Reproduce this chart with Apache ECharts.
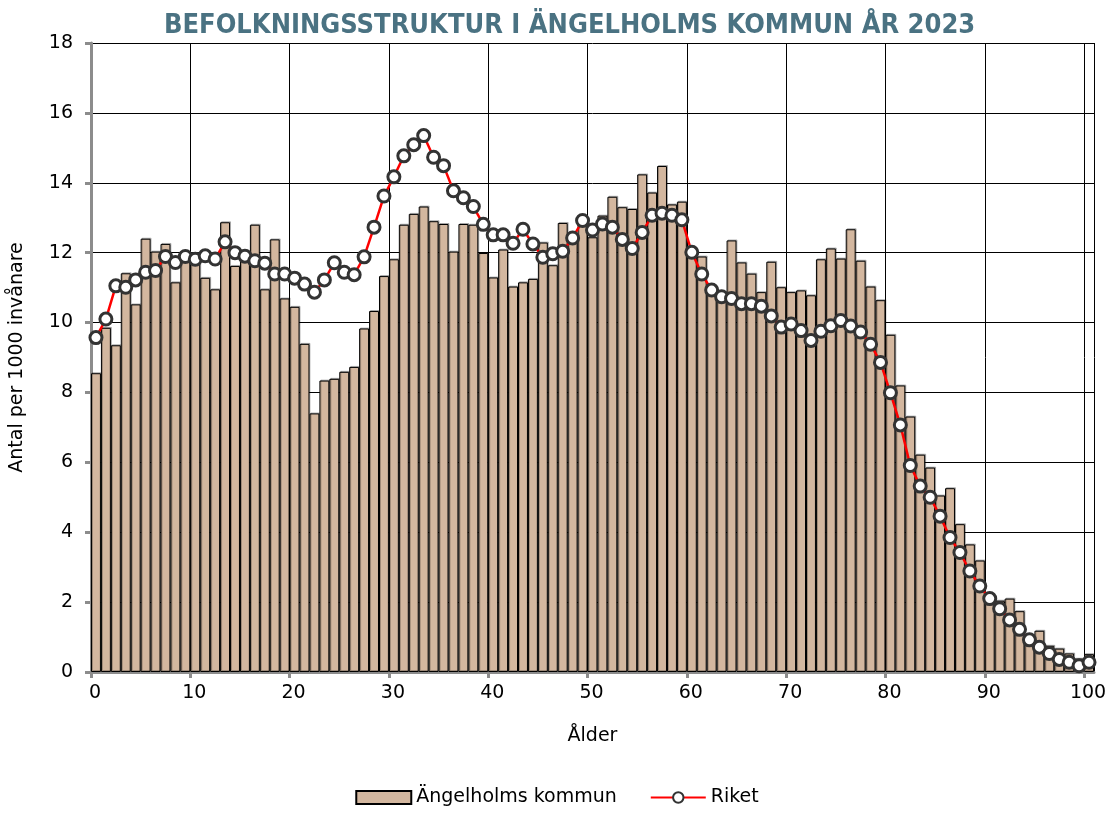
<!DOCTYPE html>
<html>
<head>
<meta charset="utf-8">
<script src="https://cdn.jsdelivr.net/npm/echarts@6/dist/echarts.min.js"></script>
<style>
  html, body { margin: 0; padding: 0; background: #fff; }
  #chart { width: 1114px; height: 816px; }
</style>
</head>
<body>
<div id="chart"></div>
<script>
// ålder 0..100
const ages = [];
for (let i = 0; i <= 100; i++) ages.push(String(i));

// Ängelholms kommun, antal per 1000 invånare
const kommunValues = [
  8.55, 9.85, 9.35, 11.41, 10.52, 12.40, 12.03, 12.25, 11.15, 11.90,
  11.75, 11.28, 10.95, 12.87, 11.62, 11.85, 12.80, 10.95, 12.38, 10.69,
  10.45, 9.39, 7.40, 8.34, 8.39, 8.59, 8.73, 9.83, 10.33, 11.33,
  11.81, 12.80, 13.11, 13.32, 12.90, 12.82, 12.03, 12.82, 12.80, 11.99,
  11.29, 12.09, 11.03, 11.15, 11.25, 12.29, 11.64, 12.85, 12.50, 12.85,
  12.44, 13.06, 13.60, 13.30, 13.25, 14.24, 13.72, 14.48, 13.38, 13.46,
  12.00, 11.89, 10.95, 10.80, 12.35, 11.72, 11.40, 10.87, 11.74, 11.01,
  10.87, 10.92, 10.78, 11.81, 12.12, 11.83, 12.67, 11.77, 11.03, 10.64,
  9.65, 8.20, 7.31, 6.22, 5.85, 5.05, 5.26, 4.23, 3.65, 3.19,
  2.05, 2.04, 2.10, 1.74, 1.05, 1.18, 0.75, 0.67, 0.53, 0.38,
  0.51
];

// Riket
const riketValues = [
  9.57, 10.10, 11.05, 11.01, 11.22, 11.44, 11.49, 11.89, 11.72, 11.89,
  11.81, 11.91, 11.82, 12.31, 12.00, 11.90, 11.77, 11.70, 11.39, 11.39,
  11.27, 11.10, 10.87, 11.22, 11.71, 11.44, 11.37, 11.88, 12.73, 13.62,
  14.17, 14.77, 15.09, 15.35, 14.73, 14.49, 13.77, 13.57, 13.32, 12.81,
  12.51, 12.51, 12.27, 12.67, 12.25, 11.87, 11.97, 12.04, 12.42, 12.92,
  12.65, 12.82, 12.73, 12.38, 12.12, 12.58, 13.07, 13.13, 13.07, 12.94,
  12.01, 11.39, 10.93, 10.74, 10.69, 10.54, 10.54, 10.47, 10.19, 9.87,
  9.96, 9.77, 9.49, 9.75, 9.91, 10.06, 9.90, 9.73, 9.38, 8.86,
  7.99, 7.07, 5.91, 5.32, 5.00, 4.46, 3.85, 3.42, 2.89, 2.46,
  2.10, 1.81, 1.49, 1.22, 0.92, 0.71, 0.53, 0.36, 0.28, 0.18,
  0.28
];

const font = "DejaVu Sans";
const axisGrey = "#8c8c8c";

const chart = echarts.init(document.getElementById("chart"));
const option = {
  animation: false,
  title: {
    text: "BEFOLKNINGSSTRUKTUR I ÄNGELHOLMS KOMMUN ÅR 2023",
    left: 159,
    top: 7,
    textStyle: {
      fontFamily: "'DejaVu Sans Condensed', 'Liberation Sans', sans-serif",
      fontWeight: "bold",
      fontSize: 27,
      color: "#4a7282",
    },
  },
  grid: {
    left: 90,
    right: 20,
    top: 43,
    bottom: 144,
  },
  legend: {
    bottom: 4,
    left: "center",
    itemWidth: 55,
    itemHeight: 13,
    itemGap: 33,
    textStyle: { fontFamily: font, fontSize: 19, color: "#000" },
    data: [
      { name: "Ängelholms kommun", icon: "rect" },
      { name: "Riket" },
    ],
  },
  xAxis: [
    {
      // dold kategoriaxel som bär staplarna och linjen
      type: "category",
      data: ages,
      show: false,
    },
    {
      type: "value",
      min: 0,
      max: 101,
      interval: 10,
      position: "bottom",
      name: "Ålder",
      nameLocation: "middle",
      nameGap: 55,
      nameTextStyle: { fontFamily: font, fontSize: 19, color: "#000" },
      axisLine: { show: true, lineStyle: { color: axisGrey, width: 3 } },
      axisTick: { show: true, length: 6, lineStyle: { color: axisGrey, width: 3 } },
      axisLabel: {
        fontFamily: font,
        fontSize: 19,
        color: "#000",
        margin: 12,
        padding: [0, 0, 0, 8],
        showMaxLabel: false,
        formatter: (v) => (v % 10 === 0 ? String(v) : ""),
      },
      splitLine: { show: true, lineStyle: { color: "#000", width: 1 } },
    },
  ],
  yAxis: {
    type: "value",
    min: 0,
    max: 18,
    interval: 2,
    name: "Antal per 1000 invånare",
    nameLocation: "middle",
    nameGap: 64,
    nameTextStyle: { fontFamily: font, fontSize: 19, color: "#000" },
    axisLine: { show: true, lineStyle: { color: axisGrey, width: 3 } },
    axisTick: { show: true, length: 6, lineStyle: { color: axisGrey, width: 3 } },
    axisLabel: { fontFamily: font, fontSize: 19, color: "#000", margin: 18 },
    splitLine: { show: true, lineStyle: { color: "#000", width: 1 } },
  },
  series: [
    {
      name: "Ängelholms kommun",
      type: "bar",
      xAxisIndex: 0,
      data: kommunValues,
      barCategoryGap: "0%",
      itemStyle: {
        color: "#d3b79f",
        borderColor: "#000",
        borderWidth: 1,
        shadowColor: "rgba(0,0,0,0.25)",
        shadowOffsetX: 1,
        shadowOffsetY: -1,
      },
      z: 2,
    },
    {
      name: "Riket",
      type: "line",
      xAxisIndex: 0,
      data: riketValues,
      symbol: "circle",
      symbolSize: 12,
      showAllSymbol: true,
      lineStyle: { color: "#ff0000", width: 2.5 },
      itemStyle: { color: "#fff", borderColor: "#333", borderWidth: 3 },
      z: 3,
    },
  ],
};
option && chart.setOption(option);
</script>
</body>
</html>
